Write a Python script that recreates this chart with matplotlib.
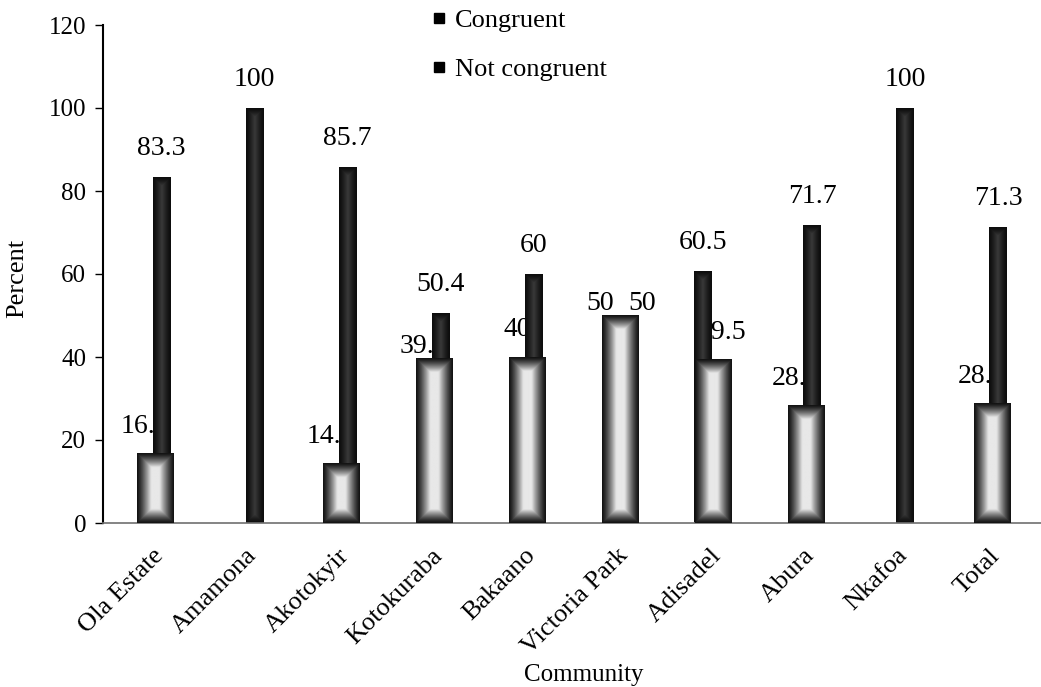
import numpy as np
import matplotlib.pyplot as plt
import matplotlib.transforms as mtransforms
from matplotlib.lines import Line2D

plt.rcParams['font.family'] = ['Liberation Serif', 'DejaVu Serif']

# survey results, percent of respondents per community
communities = ['Ola Estate', 'Amamona', 'Akotokyir', 'Kotokuraba', 'Bakaano',
               'Victoria Park', 'Adisadel', 'Abura', 'Nkafoa', 'Total']
congruent = [16.7, 0, 14.3, 39.6, 40, 50, 39.5, 28.3, 0, 28.7]
not_congruent = [83.3, 100, 85.7, 50.4, 60, 50, 60.5, 71.7, 100, 71.3]
series = ['Congruent', 'Not congruent']

W, H = 1041, 687
fig = plt.figure(figsize=(W / 100, H / 100), dpi=100)
ax = fig.add_axes([103 / W, 164 / H, 938 / W, 498 / H])
x_lo, x_hi = -0.56, 9.53
px_x = 938 / (x_hi - x_lo)   # pixels per category unit
px_y = 498 / 120             # pixels per percent


def shaded_bar(x0, w, h, lo, hi, ramp, z):
    # bar filled dark at the edges, lighter towards the middle
    nx = max(int(round(w * px_x)), 2)
    ny = max(int(round(h * px_y)), 2)
    xx = np.arange(nx) + 0.5
    yy = np.arange(ny) + 0.5
    dx = np.minimum(xx, nx - xx)
    dy = np.minimum(yy, ny - yy)
    d = np.minimum(dx[None, :], dy[:, None])
    t = np.clip(d / ramp, 0, 1)
    g = lo + (hi - lo) * t ** 1.3
    ax.imshow(g, cmap='gray', vmin=0, vmax=255, origin='lower',
              extent=[x0, x0 + w, 0, h], aspect='auto',
              interpolation='bilinear', zorder=z)


xs = np.arange(len(communities))
cw, dw = 0.39, 0.19
dark_shift = np.full(len(xs), 0.07)
dark_shift[communities.index('Adisadel')] = -0.11
# nudges (pixels) for the value labels
c_dx = np.full(len(xs), -10.0)
c_dx[communities.index('Adisadel')] = 9
c_dx[communities.index('Victoria Park')] = -20
c_dy = np.full(len(xs), 27.0)
c_dy[communities.index('Kotokuraba')] = 12
c_dy[communities.index('Victoria Park')] = 12
n_dx = np.zeros(len(xs))
n_dx[communities.index('Victoria Park')] = 16
n_dy = np.full(len(xs), 29.0)
n_dy[communities.index('Victoria Park')] = 12

for i, x in enumerate(xs):
    nc = not_congruent[i]
    xd = x + dark_shift[i]
    shaded_bar(xd - dw / 2, dw, nc, 12, 58, 9, 2)
    ax.annotate(f'{nc:g}', (xd, nc), xytext=(n_dx[i] * 0.72, n_dy[i] * 0.72),
                textcoords='offset points', ha='center', va='center',
                fontsize=20, zorder=5)
    c = congruent[i]
    if c > 0:
        shaded_bar(x - cw / 2, cw, c, 18, 232, 14, 3)
        ax.annotate(f'{c:g}', (x, c), xytext=(c_dx[i] * 0.72, c_dy[i] * 0.72),
                    textcoords='offset points', ha='center', va='center',
                    fontsize=20, zorder=1.5)

ax.set_xlim(x_lo, x_hi)
ax.set_ylim(0, 120)
ax.set_yticks(range(0, 121, 20))
ax.tick_params(axis='y', labelsize=18, length=6, width=1, pad=6)
ax.set_xticks(xs)
ax.set_xticklabels(communities, rotation=45, ha='right', va='center',
                   rotation_mode='anchor', fontsize=19)
ax.tick_params(axis='x', length=0, pad=21)
shift = mtransforms.ScaledTranslation(5 / 100, 0, fig.dpi_scale_trans)
for lab in ax.get_xticklabels():
    lab.set_transform(lab.get_transform() + shift)

for s in ['top', 'right']:
    ax.spines[s].set_visible(False)
ax.spines['left'].set_linewidth(1.5)
ax.spines['bottom'].set_color('#707070')
ax.spines['bottom'].set_linewidth(1.2)

fig.text(17 / W, 1 - 278 / H, 'Percent', rotation=90, ha='center',
         va='center', fontsize=19)
fig.text(584 / W, 1 - 675 / H, 'Community', ha='center', va='center',
         fontsize=18)

handles = [Line2D([], [], marker='s', color='black', linestyle='none',
                  markersize=7) for _ in series]
fig.legend(handles, series, loc='upper left',
           bbox_to_anchor=(431 / W, 1 - 9 / H), frameon=False, fontsize=19,
           handlelength=0.6, handletextpad=0.3, labelspacing=0.95,
           borderpad=0, borderaxespad=0)

fig.savefig('out.png', dpi=100)
